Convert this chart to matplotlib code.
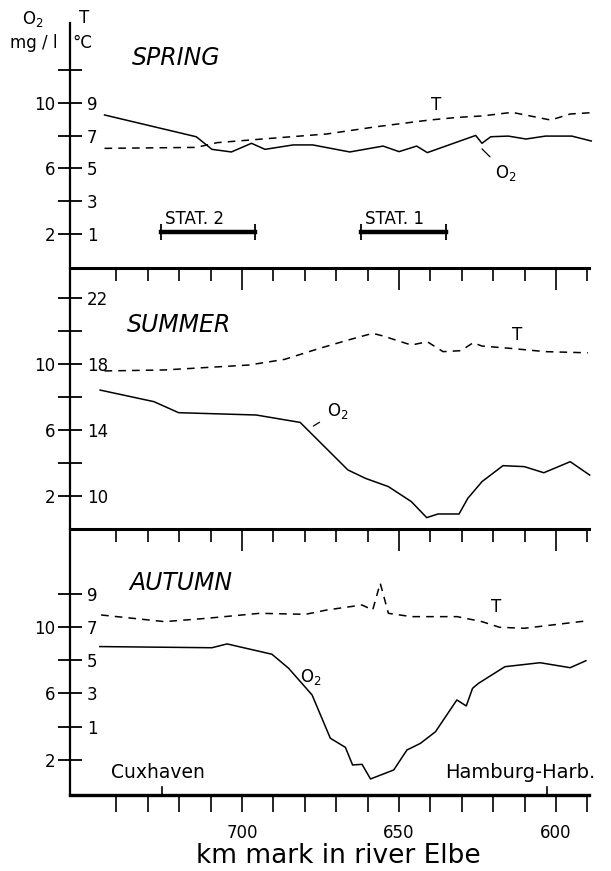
import numpy as np
import matplotlib
matplotlib.use('Agg')
import matplotlib.pyplot as plt
from matplotlib.ticker import FixedLocator

# --- data (km mark, O2 in mg/l, T in deg C) ---
spring_o2_km = [743.8, 714.6, 709.6, 703.4, 697.0, 692.7, 683.7, 677.5, 665.7, 655.1, 650.0,
                644.4, 641.0, 625.6, 623.6, 620.8, 615.2, 609.6, 603.4, 595.0, 588.8]
spring_o2 = [9.27, 7.94, 7.17, 7.01, 7.54, 7.17, 7.44, 7.44, 7.01, 7.37, 7.03,
             7.37, 6.97, 8.02, 7.54, 7.94, 7.98, 7.80, 7.98, 7.98, 7.68]
spring_t_km = [743.8, 714.6, 707.9, 691.0, 673.0, 657.3, 640.4, 631.5, 623.6, 614.0, 601.7, 595.5, 588.8]
spring_t = [6.23, 6.29, 6.58, 6.84, 7.11, 7.55, 7.96, 8.12, 8.21, 8.43, 7.96, 8.33, 8.41]

summer_o2_km = [745.2, 728.1, 720.2, 695.5, 681.5, 666.3, 660.7, 653.4, 646.1, 641.2, 637.6,
                630.9, 628.1, 623.6, 616.9, 610.1, 603.9, 595.5, 589.3]
summer_o2 = [8.42, 7.72, 7.05, 6.91, 6.46, 3.58, 3.07, 2.57, 1.66, 0.69, 0.91,
             0.91, 1.86, 2.87, 3.84, 3.78, 3.41, 4.08, 3.27]
summer_t_km = [743.8, 724.7, 697.8, 686.5, 675.3, 666.3, 658.4, 655.1, 646.1, 641.0, 636.0,
               630.3, 626.4, 623.6, 614.6, 603.4, 589.9]
summer_t = [17.58, 17.64, 17.94, 18.28, 18.95, 19.45, 19.86, 19.70, 19.15, 19.35, 18.75,
            18.81, 19.29, 19.09, 18.95, 18.75, 18.68]

autumn_o2_km = [745.3, 709.6, 704.8, 690.5, 685.2, 677.7, 671.9, 667.1, 664.8, 661.8, 659.1,
                651.7, 647.5, 643.2, 638.4, 631.6, 628.6, 626.6, 624.7, 616.3, 605.1, 595.5, 590.5]
autumn_o2 = [8.82, 8.75, 8.98, 8.36, 7.52, 5.91, 3.31, 2.76, 1.70, 1.74, 0.86,
             1.40, 2.60, 3.00, 3.70, 5.61, 5.25, 6.31, 6.61, 7.61, 7.85, 7.55, 7.97]
autumn_t_km = [744.9, 724.7, 711.2, 694.4, 679.8, 673.0, 661.8, 658.4, 656.0, 653.4, 646.1,
               631.5, 623.6, 618.0, 610.1, 601.2, 590.5]
autumn_t = [7.72, 7.32, 7.52, 7.82, 7.76, 8.02, 8.32, 8.02, 9.63, 7.82, 7.62,
            7.62, 7.32, 6.98, 6.92, 7.12, 7.36]

km_major = [700, 650, 600]
km_minor = list(range(590, 750, 10))

stations = [('STAT. 2', 725.8, 695.8), ('STAT. 1', 662.0, 635.1)]
places = [('Cuxhaven', 725.6), ('Hamburg-Harb.', 603.0)]

# --- layout ---
XLIM = (754.8, 589.6)
fig = plt.figure(figsize=(6.11, 8.71), dpi=100)
W, H = 611.0, 871.0
left = 70 / W
width = (XLIM[0] - XLIM[1]) * 3.14 / W


def panel(top_px, bot_px, ylim, t_off, o2_ticks, o2_labels, t_ticks):
    ax = fig.add_axes([left, 1 - bot_px / H, width, (bot_px - top_px) / H])
    ax.set_xlim(*XLIM)
    ax.set_ylim(*ylim)
    for s in ['top', 'right', 'bottom']:
        ax.spines[s].set_visible(False)
    ax.spines['left'].set_linewidth(1.6)
    ax.set_yticks(o2_ticks, o2_labels)
    ax.tick_params(axis='y', direction='inout', length=17, width=1.3, labelsize=12, pad=2)
    ax.tick_params(axis='x', which='both', bottom=False, labelbottom=False)
    # temperature scale, labels right of the same spine
    ax2 = ax.twinx()
    ax2.set_ylim(ylim[0] + t_off, ylim[1] + t_off)
    for s in ax2.spines.values():
        s.set_visible(False)
    ax2.yaxis.tick_left()
    ax2.set_yticks(t_ticks)
    ax2.tick_params(axis='y', length=0, pad=-12, labelsize=12)
    for lab in ax2.get_yticklabels():
        lab.set_horizontalalignment('left')
    return ax, ax2


def top_line(ax):
    sec = ax.secondary_xaxis('top')
    sec.spines['top'].set_linewidth(2.2)
    sec.set_xticks(km_major)
    sec.xaxis.set_minor_locator(FixedLocator(km_minor))
    sec.tick_params(which='major', direction='in', length=16, width=1.2, labeltop=False)
    sec.tick_params(which='minor', direction='in', length=9.5, width=1.2)


dash = (0, (5, 4))
lw = 1.1

# SPRING
ax, ax2 = panel(23, 268, (-0.08, 14.89), -1, [12, 10, 8, 6, 4, 2], ['', '10', '', '6', '', '2'], [9, 7, 5, 3, 1])
ax.plot(spring_o2_km, spring_o2, 'k-', lw=lw, clip_on=False)
ax2.plot(spring_t_km, spring_t, color='k', ls=dash, lw=lw, clip_on=False)
ax.text(735, 12.75, 'SPRING', fontsize=17, style='italic', ha='left', va='center')
ax.text(638.2, 9.88, 'T', fontsize=12, ha='center', va='center')
ax.annotate('O$_2$', xy=(623.6, 7.2), xytext=(616.0, 5.75), fontsize=12, ha='center', va='center',
            arrowprops=dict(arrowstyle='-', lw=0.9, shrinkA=3, shrinkB=0))
for name, k0, k1 in stations:
    ax.plot([k0, k1], [2.14, 2.14], color='k', lw=3.2, marker='|', ms=12, mew=1.3)
    ax.text(k0 - 1.2, 2.62, name, fontsize=12, ha='left', va='baseline')

# SUMMER
ax, ax2 = panel(268, 529, (0.0, 15.82), 8, [14, 12, 10, 8, 6, 4, 2], ['', '', '10', '', '6', '', '2'], [22, 18, 14, 10])
top_line(ax)
ax.plot(summer_o2_km, summer_o2, 'k-', lw=lw, clip_on=False)
ax2.plot(summer_t_km, summer_t, color='k', ls=dash, lw=lw, clip_on=False)
ax.text(736.6, 12.36, 'SUMMER', fontsize=17, style='italic', ha='left', va='center')
ax.text(612.4, 11.76, 'T', fontsize=12, ha='center', va='center')
ax.annotate('O$_2$', xy=(677.3, 6.24), xytext=(669.5, 7.15), fontsize=12, ha='center', va='center',
            arrowprops=dict(arrowstyle='-', lw=0.9, shrinkA=4, shrinkB=0))

# AUTUMN
ax, ax2 = panel(529, 795, (-0.105, 15.89), -3, [12, 10, 8, 6, 4, 2], ['', '10', '', '6', '', '2'], [9, 7, 5, 3, 1])
top_line(ax)
ax.spines['bottom'].set_visible(True)
ax.spines['bottom'].set_linewidth(2.4)
ax.plot(autumn_o2_km, autumn_o2, 'k-', lw=lw, clip_on=False)
ax2.plot(autumn_t_km, autumn_t, color='k', ls=dash, lw=lw, clip_on=False)
ax.text(736.0, 12.65, 'AUTUMN', fontsize=17, style='italic', ha='left', va='center')
ax.text(619.1, 11.22, 'T', fontsize=12, ha='center', va='center')
ax.text(678.1, 7.01, 'O$_2$', fontsize=12, ha='center', va='center')
ax.set_xticks(km_major)
ax.xaxis.set_minor_locator(FixedLocator(km_minor))
ax.tick_params(axis='x', which='both', bottom=True, labelbottom=True, direction='out',
               length=12, width=1.2, labelsize=12, pad=9)
for name, k in places:
    ax.axvline(k, 0, 0.03, color='k', lw=1.2)
ax.text(726.8, 1.22, 'Cuxhaven', fontsize=13.5, ha='center', va='center')
ax.text(611.5, 1.22, 'Hamburg-Harb.', fontsize=14, ha='center', va='center')

# axis titles
fig.text(33 / W, 1 - 19 / H, 'O$_2$', fontsize=12, ha='center', va='center')
fig.text(34 / W, 1 - 43 / H, 'mg / l', fontsize=12, ha='center', va='center')
fig.text(84 / W, 1 - 18 / H, 'T', fontsize=12, ha='center', va='center')
fig.text(82 / W, 1 - 43 / H, '°C', fontsize=12, ha='center', va='center')
fig.text(338 / W, 1 - 856 / H, 'km mark in river Elbe', fontsize=19, ha='center', va='center')

fig.savefig('out.png', dpi=100)
